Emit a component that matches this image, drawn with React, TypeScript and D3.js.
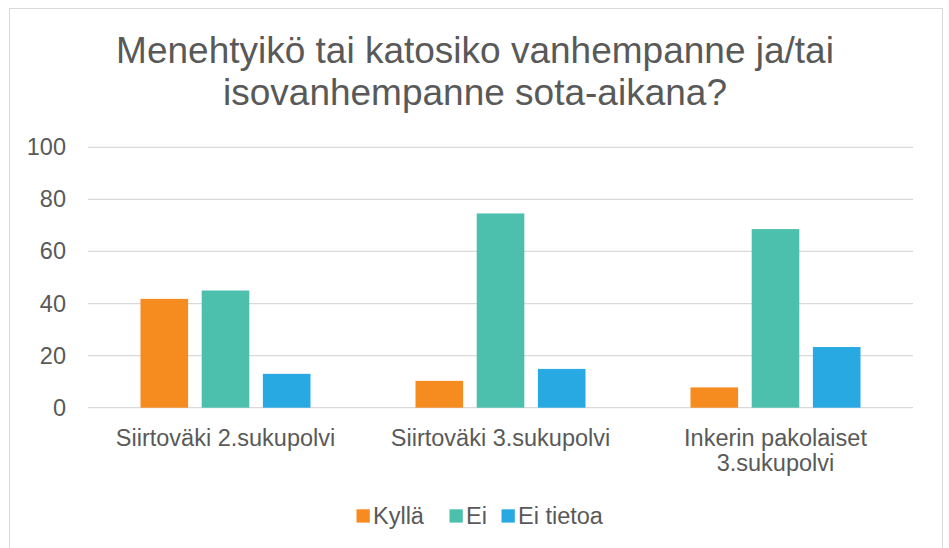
import React from 'react';
import * as d3 from 'd3';

const categories = ['Siirtoväki 2.sukupolvi', 'Siirtoväki 3.sukupolvi', 'Inkerin pakolaiset 3.sukupolvi'];
const categoryLines = [['Siirtoväki 2.sukupolvi'], ['Siirtoväki 3.sukupolvi'], ['Inkerin pakolaiset', '3.sukupolvi']];
const seriesNames = ['Kyllä', 'Ei', 'Ei tietoa'];
const seriesColors = ['#F68B1F', '#4DBFAD', '#29A9E1'];
const kyllaValues = [41.8, 10.3, 7.8];
const eiValues = [45, 74.6, 68.6];
const eiTietoaValues = [13, 14.9, 23.3];
const yTicks = [0, 20, 40, 60, 80, 100];
const titleLines = ['Menehtyikö tai katosiko vanhempanne ja/tai', 'isovanhempanne sota-aikana?'];

const W = 949;
const H = 548;
const textColor = '#595959';
const font = '"Liberation Sans", Arial, sans-serif';

export default function App() {
  const values = [kyllaValues, eiValues, eiTietoaValues];

  // scales
  const x0 = d3.scaleBand<string>().domain(categories).range([88, 913]);
  const x1 = d3.scaleBand<string>().domain(seriesNames).range([52.5, 222.5]).paddingInner(0.222);
  const y = d3.scaleLinear().domain([0, 100]).range([407.7, 147.3]);

  // legend layout
  const legendX = [356.5, 449.5, 501.5];

  return (
    <svg width={W} height={H} style={{ position: 'absolute', left: 0, top: 0, fontFamily: font }}>
      <rect x={0} y={0} width={W} height={H} fill="#fff" />
      <rect x={9.5} y={8.5} width={933} height={560} fill="#fff" stroke="#D9D9D9" strokeWidth={1} />

      {/* title */}
      {titleLines.map((t, i) => (
        <text key={i} x={475} y={63 + i * 42} textAnchor="middle" fontSize={37} fill={textColor}>{t}</text>
      ))}

      {/* grid + y ticks */}
      {yTicks.map(t => (
        <g key={t}>
          <line x1={88} x2={913} y1={y(t)} y2={y(t)} stroke="#D9D9D9" strokeWidth={1.3} />
          <text x={66} y={y(t) + 8} textAnchor="end" fontSize={23.5} fill={textColor}>{t}</text>
        </g>
      ))}

      {/* bars */}
      {categories.map((c, ci) => (
        <g key={c} transform={`translate(${x0(c)},0)`}>
          {seriesNames.map((s, si) => (
            <rect key={s} x={x1(s)} y={y(values[si][ci])} width={x1.bandwidth()}
              height={y(0) - y(values[si][ci])} fill={seriesColors[si]} />
          ))}
        </g>
      ))}

      {/* category labels */}
      {categories.map((c, ci) => (
        <text key={c} textAnchor="middle" fontSize={23.5} fill={textColor}>
          {categoryLines[ci].map((l, li) => (
            <tspan key={li} x={x0(c)! + x0.bandwidth() / 2} y={446 + li * 25}>{l}</tspan>
          ))}
        </text>
      ))}

      {/* legend */}
      {seriesNames.map((s, si) => (
        <g key={s}>
          <rect x={legendX[si]} y={509.3} width={13.3} height={13.3} fill={seriesColors[si]} />
          <text x={legendX[si] + 16.5} y={524} fontSize={23.5} fill={textColor}>{s}</text>
        </g>
      ))}
    </svg>
  );
}
